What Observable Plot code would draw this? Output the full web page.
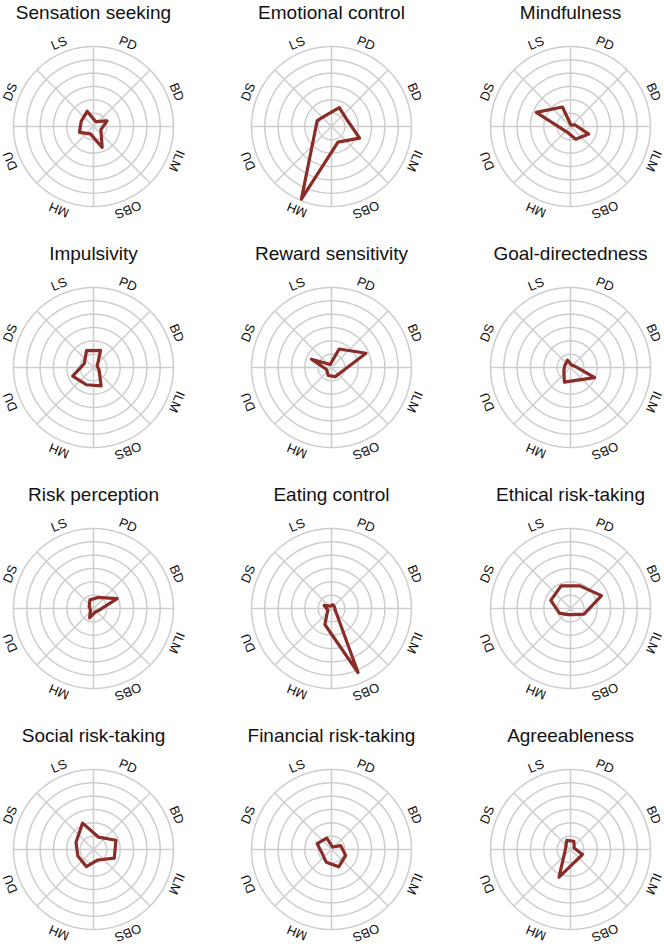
<!DOCTYPE html>
<html><head><meta charset="utf-8">
<script src="https://cdn.jsdelivr.net/npm/d3@7"></script>
<script src="https://cdn.jsdelivr.net/npm/@observablehq/plot@0.6"></script>
<style>
body{margin:0;background:#fff;}
#wrap{position:relative;width:664px;height:944px;overflow:hidden;background:#fff;}
#wrap svg{position:absolute;}
</style></head><body><div id="wrap"></div>
<script>
// Axes of every radar, clockwise starting just right of the top
const axes = ["PD","BD","ILM","OBS","MH","DU","DS","LS"];
const rings = [1,2,3,4,5,6];
const spokeAngles = [0,45,90,135,180,225,270,315];
const titles = ["Sensation seeking","Emotional control","Mindfulness",
  "Impulsivity","Reward sensitivity","Goal-directedness",
  "Risk perception","Eating control","Ethical risk-taking",
  "Social risk-taking","Financial risk-taking","Agreeableness"];

// values in ring units (0–6), order PD, BD, ILM, OBS, MH, DU, DS, LS
const sensationSeeking  = [0.40, 1.10, 0.60, 1.70, 0.60, 1.14, 1.00, 1.24];
const emotionalControl  = [1.53, 1.27, 2.28, 1.27, 5.90, 1.37, 1.16, 0.94];
const mindfulness       = [0.10, 0.35, 1.48, 1.03, 0.50, 0.60, 2.78, 1.58];
const impulsivity       = [1.39, 0.30, 0.45, 1.49, 1.40, 1.69, 0.75, 1.37];
const rewardSensitivity = [1.50, 2.80, 0.83, 0.74, 0.65, 0.40, 1.63, 0.25];
const goalDirectedness  = [0.20, 0.30, 1.97, 1.05, 1.19, 0.54, 0.45, 0.60];
const riskPerception    = [0.90, 1.92, 0.40, 0.30, 0.75, 0.25, 0.35, 0.70];
const eatingControl     = [0.30, 0.25, 0.30, 5.20, 1.30, 0.30, 0.60, 0.20];
const ethicalRisk       = [1.84, 2.52, 1.10, 0.50, 0.50, 0.90, 1.60, 1.84];
const socialRisk        = [1.00, 1.82, 1.69, 0.85, 1.39, 1.27, 1.42, 2.14];
const financialRisk     = [0.20, 0.75, 1.15, 1.41, 1.03, 0.76, 1.17, 0.92];
const agreeableness     = [0.67, 0.30, 0.97, 0.96, 2.25, 0.46, 0.39, 0.74];

const series = [sensationSeeking, emotionalControl, mindfulness,
  impulsivity, rewardSensitivity, goalDirectedness,
  riskPerception, eatingControl, ethicalRisk,
  socialRisk, financialRisk, agreeableness];

const PX = 80 / 6;              // pixels per ring unit
const W = 224, H = 226, CX = 112, CY = 126;
const colX = [92.5, 331, 569.5], rowY = [126, 367, 608, 849];
const rad = d => d * Math.PI / 180;
const axisAngle = i => 22.5 + 45 * i;
const maxR = d3.max(rings);

const circlePts = rings.flatMap(r => d3.range(0, 361, 2).map(a => ({ring: r, x: r * Math.sin(rad(a)), y: r * Math.cos(rad(a))})));
const spokes = spokeAngles.map(a => ({x2: maxR * Math.sin(rad(a)), y2: maxR * Math.cos(rad(a))}));
const labelR = 90 / PX;
const font = "'Liberation Sans', Arimo, Arial, sans-serif";

const wrap = document.getElementById("wrap");
series.forEach((vals, k) => {
  const col = k % 3, row = Math.floor(k / 3);
  const pts = vals.map((v, i) => ({x: v * Math.sin(rad(axisAngle(i))), y: v * Math.cos(rad(axisAngle(i)))}));
  const svg = Plot.plot({
    width: W, height: H, margin: 0,
    x: {domain: [-CX / PX, (W - CX) / PX], axis: null},
    y: {domain: [-(H - CY) / PX, CY / PX], axis: null},
    style: {fontFamily: font, background: "transparent"},
    marks: [
      Plot.line(circlePts, {x: "x", y: "y", z: "ring", stroke: "#cdcdcd", strokeWidth: 1.5}),
      Plot.link(spokes, {x1: 0, y1: 0, x2: "x2", y2: "y2", stroke: "#cdcdcd", strokeWidth: 1.5}),
      Plot.line(pts, {x: "x", y: "y", curve: "linear-closed", stroke: "#8a2c27", strokeWidth: 3.2}),
      Plot.text(axes, {
        x: (d, i) => labelR * Math.sin(rad(axisAngle(i))),
        y: (d, i) => labelR * Math.cos(rad(axisAngle(i))),
        text: d => d, rotate: (d, i) => axisAngle(i),
        fontSize: 13, fill: "#111", textAnchor: "middle", lineAnchor: "middle"
      }),
      Plot.text([titles[k]], {x: 0, y: 108 / PX, text: d => d, fontSize: 19, fill: "#111", textAnchor: "middle", lineAnchor: "bottom"})
    ]
  });
  svg.style.left = (colX[col] - CX) + "px";
  svg.style.top = (rowY[row] - CY) + "px";
  svg.style.maxWidth = "none";
  wrap.append(svg);
});
</script></body></html>
